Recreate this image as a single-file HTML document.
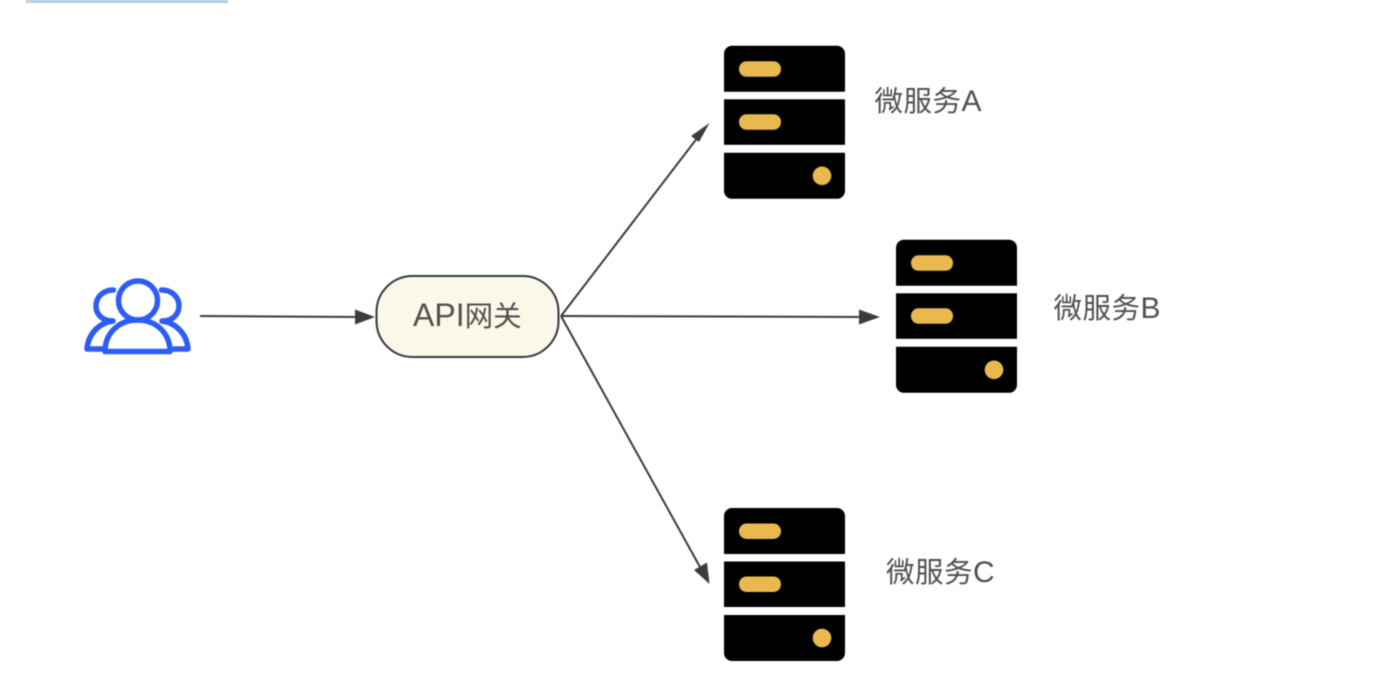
<!DOCTYPE html>
<html>
<head>
<meta charset="utf-8">
<style>
html,body{margin:0;padding:0;background:#fff;width:1396px;height:699px;overflow:hidden}
svg{display:block;filter:blur(0.5px)}
text{font-family:"Liberation Sans","WenQuanYi Zen Hei","Noto Sans CJK SC",sans-serif;fill:#505050;font-size:28.5px}
.s{letter-spacing:0.5px}
.l{font-size:30px}
.api{font-size:32px}
</style>
</head>
<body>
<svg width="1396" height="699" viewBox="0 0 1396 699" xmlns="http://www.w3.org/2000/svg">
<defs>
<g id="srv">
<path d="M0 46V8a8 8 0 0 1 8-8H113a8 8 0 0 1 8 8V46Z" fill="#000"/>
<rect x="0" y="53.500" width="121" height="45.500" fill="#000"/>
<path d="M0 107H121V145a8 8 0 0 1-8 8H8a8 8 0 0 1-8-8Z" fill="#000"/>
<rect x="15" y="15.500" width="42" height="15.500" rx="7.500" fill="#e9b84f"/>
<rect x="15" y="68.500" width="42" height="15.500" rx="7.500" fill="#e9b84f"/>
<circle cx="98" cy="130" r="9.300" fill="#e9b84f"/>
</g>
</defs>
<rect x="26" y="-4" width="202" height="7" fill="#aecde2"/>

<!-- users icon -->
<g fill="none" stroke="#2d5cf6" stroke-width="5.500" stroke-linecap="round" stroke-linejoin="round">
<circle cx="138" cy="300.500" r="19.500"/>
<path d="M105 351.500C105 333 119 320 137.500 320S170 333 170 351.500Z"/>
<path d="M113.500 290C102 290 96 298 96 306C96 314 102 321 113 321C98 323 88 335 87 349H102"/>
<path d="M161.500 290C173 290 179 298 179 306C179 314 173 321 162 321C177 323 187 335 188 349H173"/>
</g>

<!-- gateway -->
<rect x="376.500" y="276" width="182" height="81" rx="36" fill="#fbf8ea" stroke="#333a40" stroke-width="2"/>
<text x="413" y="326"><tspan class="api">API</tspan><tspan>网关</tspan></text>

<!-- connectors -->
<g stroke="#3c3c3c" stroke-width="2" fill="none">
<line x1="200" y1="316" x2="360" y2="317"/>
<line x1="561" y1="316" x2="698" y2="137"/>
<line x1="561" y1="316" x2="864" y2="317"/>
<line x1="561" y1="316" x2="700" y2="567"/>
</g>
<g fill="#3c3c3c">
<polygon points="375,317 355,309.500 355,324.500"/>
<polygon points="709.500,123 699,142 691,136"/>
<polygon points="880,317 859,309.500 859,324.500"/>
<polygon points="709.500,584 694,570 707,562.500"/>
</g>

<!-- servers -->
<use href="#srv" x="724" y="45.800"/>
<use href="#srv" x="896" y="239.800"/>
<use href="#srv" x="724" y="508"/>

<text class="s" x="874.500" y="111">微服务<tspan class="l">A</tspan></text>
<text class="s" x="1053.500" y="318">微服务<tspan class="l">B</tspan></text>
<text class="s" x="886" y="582">微服务<tspan class="l">C</tspan></text>
</svg>
</body>
</html>
